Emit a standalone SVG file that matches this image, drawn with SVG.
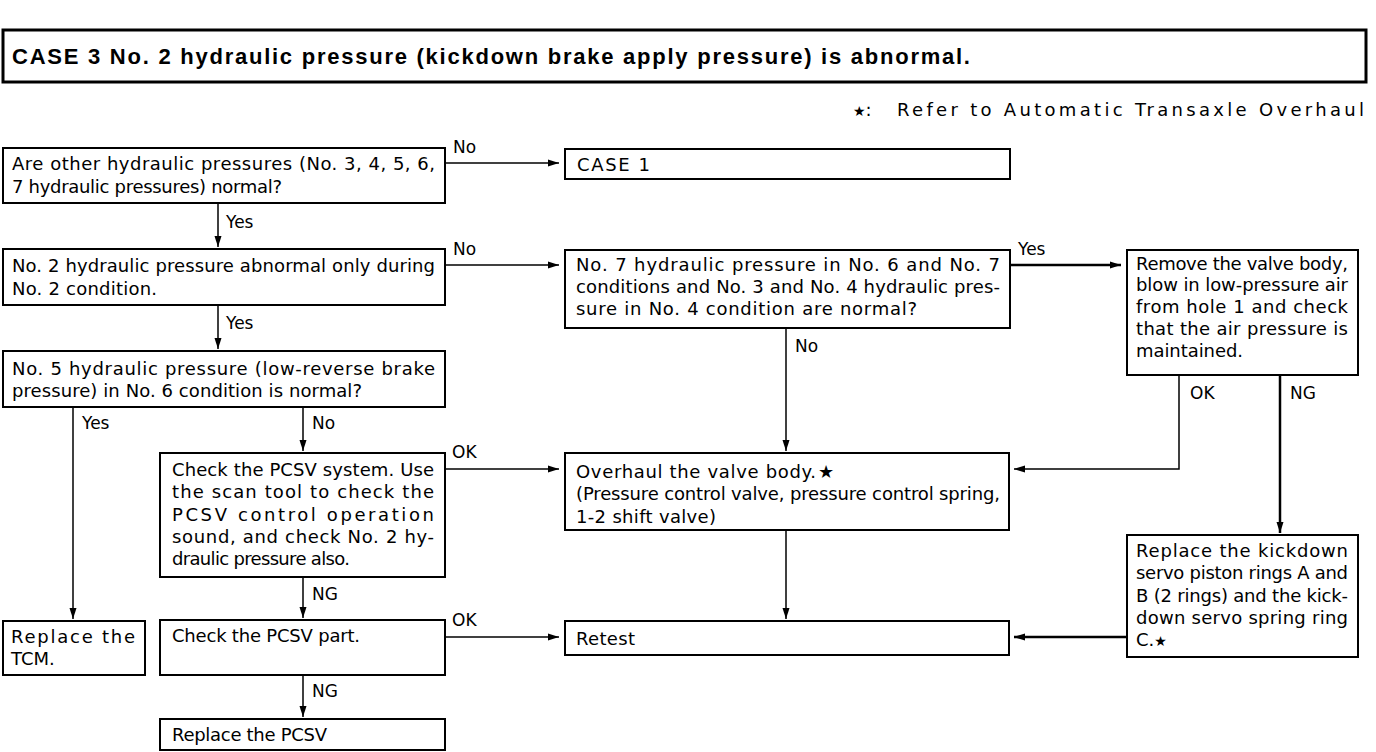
<svg xmlns="http://www.w3.org/2000/svg" width="1376" height="752" viewBox="0 0 1376 752">
<style>
.box{fill:#fff;stroke:#000;stroke-width:2}
.t{font-family:"DejaVu Sans","Liberation Sans",Arial,sans-serif;font-size:18px;fill:#000}
.lbl{font-family:"DejaVu Sans","Liberation Sans",Arial,sans-serif;font-size:17px;fill:#000}
.c{fill:none;stroke:#000;stroke-width:1.5}
.thick{stroke-width:2.5}
</style>
<defs>
<marker id="ah" markerUnits="userSpaceOnUse" markerWidth="12" markerHeight="10" refX="11" refY="5" orient="auto">
<path d="M0,1.5 L11,5 L0,8.5 Z" fill="#000"/>
</marker>
</defs>
<rect width="1376" height="752" fill="#fff"/>
<g id="title">
<rect x="3" y="30" width="1363" height="52" fill="#fff" stroke="#000" stroke-width="3"/>
<text x="12" y="64" font-family="Liberation Sans,Arial,sans-serif" font-size="22" font-weight="bold" textLength="958" lengthAdjust="spacing">CASE 3 No. 2 hydraulic pressure (kickdown brake apply pressure) is abnormal.</text>
</g>
<g id="note">
<text x="853" y="116" class="t"><tspan font-size="14">★</tspan>:</text>
<text x="897" y="116" class="t" textLength="467" lengthAdjust="spacing">Refer to Automatic Transaxle Overhaul</text>
</g>
<g id="n1">
<rect class="box" x="3" y="148" width="442" height="55"/>
<text class="t" x="12" y="170" textLength="423" lengthAdjust="spacing">Are other hydraulic pressures (No. 3, 4, 5, 6,</text>
<text class="t" x="12" y="193" textLength="270" lengthAdjust="spacing">7 hydraulic pressures) normal?</text>
</g>
<g id="n_case1">
<rect class="box" x="565" y="149" width="445" height="30"/>
<text class="t" x="577" y="171" textLength="73" lengthAdjust="spacing">CASE 1</text>
</g>
<g id="n2">
<rect class="box" x="3" y="249" width="442" height="56"/>
<text class="t" x="12" y="272" textLength="423" lengthAdjust="spacing">No. 2 hydraulic pressure abnormal only during</text>
<text class="t" x="12" y="295" textLength="145" lengthAdjust="spacing">No. 2 condition.</text>
</g>
<g id="n3">
<rect class="box" x="565" y="250" width="445" height="78"/>
<text class="t" x="576" y="271" textLength="424" lengthAdjust="spacing">No. 7 hydraulic pressure in No. 6 and No. 7</text>
<text class="t" x="576" y="293" textLength="424" lengthAdjust="spacing">conditions and No. 3 and No. 4 hydraulic pres-</text>
<text class="t" x="576" y="315" textLength="341" lengthAdjust="spacing">sure in No. 4 condition are normal?</text>
</g>
<g id="n4">
<rect class="box" x="1127" y="250" width="231" height="125"/>
<text class="t" x="1136" y="270" textLength="212" lengthAdjust="spacing">Remove the valve body,</text>
<text class="t" x="1136" y="291" textLength="212" lengthAdjust="spacing">blow in low-pressure air</text>
<text class="t" x="1136" y="313" textLength="212" lengthAdjust="spacing">from hole 1 and check</text>
<text class="t" x="1136" y="335" textLength="212" lengthAdjust="spacing">that the air pressure is</text>
<text class="t" x="1136" y="357" textLength="107" lengthAdjust="spacing">maintained.</text>
</g>
<g id="n5">
<rect class="box" x="3" y="351" width="442" height="56"/>
<text class="t" x="12" y="375" textLength="423" lengthAdjust="spacing">No. 5 hydraulic pressure (low-reverse brake</text>
<text class="t" x="12" y="397" textLength="350" lengthAdjust="spacing">pressure) in No. 6 condition is normal?</text>
</g>
<g id="n6">
<rect class="box" x="160" y="453" width="285" height="124"/>
<text class="t" x="172" y="476" textLength="262" lengthAdjust="spacing">Check the PCSV system. Use</text>
<text class="t" x="172" y="498" textLength="262" lengthAdjust="spacing">the scan tool to check the</text>
<text class="t" x="172" y="521" textLength="262" lengthAdjust="spacing">PCSV control operation</text>
<text class="t" x="172" y="543" textLength="262" lengthAdjust="spacing">sound, and check No. 2 hy-</text>
<text class="t" x="172" y="565" textLength="178" lengthAdjust="spacing">draulic pressure also.</text>
</g>
<g id="n_overhaul">
<rect class="box" x="565" y="453" width="444" height="77"/>
<text class="t" x="576" y="478" textLength="240" lengthAdjust="spacing">Overhaul the valve body.</text>
<text class="t" x="818" y="478" font-size="14">★</text>
<text class="t" x="576" y="500" textLength="424" lengthAdjust="spacing">(Pressure control valve, pressure control spring,</text>
<text class="t" x="576" y="523" textLength="140" lengthAdjust="spacing">1-2 shift valve)</text>
</g>
<g id="n7">
<rect class="box" x="1127" y="535" width="231" height="122"/>
<text class="t" x="1136" y="557" textLength="212" lengthAdjust="spacing">Replace the kickdown</text>
<text class="t" x="1136" y="579" textLength="212" lengthAdjust="spacing">servo piston rings A and</text>
<text class="t" x="1136" y="602" textLength="212" lengthAdjust="spacing">B (2 rings) and the kick-</text>
<text class="t" x="1136" y="624" textLength="212" lengthAdjust="spacing">down servo spring ring</text>
<text class="t" x="1136" y="646">C.<tspan font-size="14">★</tspan></text>
</g>
<g id="n8">
<rect class="box" x="160" y="620" width="285" height="55"/>
<text class="t" x="172" y="642" textLength="188" lengthAdjust="spacing">Check the PCSV part.</text>
</g>
<g id="n_retest">
<rect class="box" x="565" y="621" width="444" height="34"/>
<text class="t" x="576" y="645" textLength="59" lengthAdjust="spacing">Retest</text>
</g>
<g id="n9">
<rect class="box" x="3" y="621" width="142" height="54"/>
<text class="t" x="11" y="643" textLength="124" lengthAdjust="spacing">Replace the</text>
<text class="t" x="11" y="665">TCM.</text>
</g>
<g id="n10">
<rect class="box" x="160" y="719" width="285" height="31"/>
<text class="t" x="172" y="741" textLength="155" lengthAdjust="spacing">Replace the PCSV</text>
</g>
<g id="connectors">
<line class="c" x1="445" y1="163" x2="559" y2="163" marker-end="url(#ah)"/>
<line class="c" x1="218" y1="203" x2="218" y2="247" marker-end="url(#ah)"/>
<line class="c" x1="445" y1="265" x2="559" y2="265" marker-end="url(#ah)"/>
<line class="c" x1="218" y1="305" x2="218" y2="349" marker-end="url(#ah)"/>
<line class="c thick" x1="1010" y1="265" x2="1121" y2="265" marker-end="url(#ah)"/>
<line class="c" x1="786" y1="328" x2="786" y2="451" marker-end="url(#ah)"/>
<line class="c" x1="73" y1="407" x2="73" y2="619" marker-end="url(#ah)"/>
<line class="c" x1="303" y1="407" x2="303" y2="451" marker-end="url(#ah)"/>
<line class="c" x1="445" y1="469" x2="559" y2="469" marker-end="url(#ah)"/>
<polyline class="c" points="1179,375 1179,469 1014,469" marker-end="url(#ah)"/>
<line class="c thick" x1="1280" y1="375" x2="1280" y2="533" marker-end="url(#ah)"/>
<line class="c" x1="786" y1="530" x2="786" y2="619" marker-end="url(#ah)"/>
<line class="c" x1="303" y1="577" x2="303" y2="618" marker-end="url(#ah)"/>
<line class="c" x1="445" y1="637" x2="559" y2="637" marker-end="url(#ah)"/>
<line class="c thick" x1="1127" y1="637" x2="1014" y2="637" marker-end="url(#ah)"/>
<line class="c" x1="303" y1="675" x2="303" y2="717" marker-end="url(#ah)"/>
<text class="lbl" x="453" y="153">No</text>
<text class="lbl" x="226" y="228">Yes</text>
<text class="lbl" x="453" y="255">No</text>
<text class="lbl" x="226" y="329">Yes</text>
<text class="lbl" x="1018" y="255">Yes</text>
<text class="lbl" x="795" y="352">No</text>
<text class="lbl" x="82" y="429">Yes</text>
<text class="lbl" x="312" y="429">No</text>
<text class="lbl" x="452" y="458">OK</text>
<text class="lbl" x="1190" y="399">OK</text>
<text class="lbl" x="1290" y="399">NG</text>
<text class="lbl" x="312" y="600">NG</text>
<text class="lbl" x="452" y="626">OK</text>
<text class="lbl" x="312" y="697">NG</text>
</g>
</svg>
